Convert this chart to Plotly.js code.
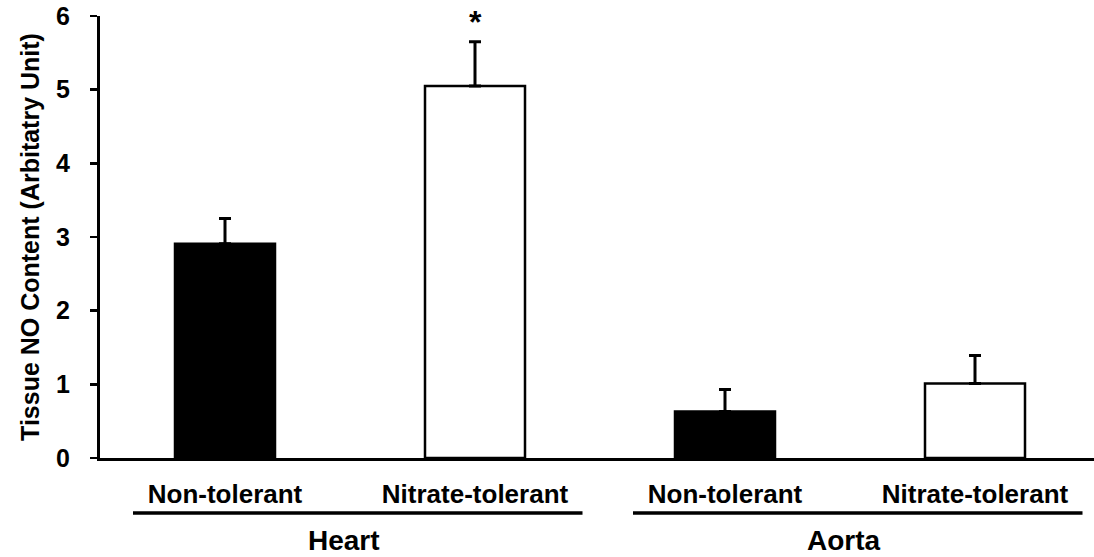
<!DOCTYPE html>
<html>
<head>
<meta charset="utf-8">
<script src="https://cdn.plot.ly/plotly-3.0.1.min.js"></script>
<style>html,body{margin:0;padding:0;background:#fff;}#chart{width:1094px;height:557px;}</style>
</head>
<body>
<div id="chart"></div>
<script>
// Data
var groups = ["Heart", "Aorta"];
var conditions = ["Non-tolerant", "Nitrate-tolerant"];
var categories = ["Heart|Non-tolerant", "Heart|Nitrate-tolerant", "Aorta|Non-tolerant", "Aorta|Nitrate-tolerant"];
var tickLabels = ["Non-tolerant", "Nitrate-tolerant", "Non-tolerant", "Nitrate-tolerant"];
var values = [2.91, 5.05, 0.63, 1.01];
var errors = [0.34, 0.60, 0.30, 0.38];
var significant = [false, true, false, false];
var yTicks = [0, 1, 2, 3, 4, 5, 6];

var FONT = "Liberation Sans, Arial, sans-serif";

var fills = categories.map(function (c, i) { return i % 2 === 0 ? "#000000" : "#ffffff"; });

var trace = {
  type: "bar",
  x: categories,
  y: values,
  width: 0.4,
  marker: { color: fills, line: { color: "#000000", width: 2.5 } },
  error_y: {
    type: "data",
    array: errors,
    symmetric: false,
    arrayminus: errors.map(function () { return 0; }),
    color: "#000000",
    thickness: 3,
    width: 6
  },
  hoverinfo: "none"
};

var annotations = [];
categories.forEach(function (c, i) {
  if (significant[i]) {
    annotations.push({
      x: c, y: values[i] + errors[i], xref: "x", yref: "y",
      text: "<b>*</b>", showarrow: false, yanchor: "bottom", yshift: 0,
      font: { family: FONT, size: 32, color: "#000" }
    });
  }
});

var shapes = [];
groups.forEach(function (g, gi) {
  var first = gi * conditions.length;
  var last = first + conditions.length - 1;
  shapes.push({
    type: "line", xref: "x", yref: "paper",
    x0: first - 0.368, x1: last + 0.43, y0: -0.1244, y1: -0.1244,
    line: { color: "#000", width: 3.5 }
  });
  annotations.push({
    x: (first + last) / 2, xref: "x", y: -0.2235, yref: "paper",
    xshift: -6, text: "<b>" + g + "</b>", showarrow: false,
    yanchor: "bottom", xanchor: "center", borderpad: 0,
    font: { family: FONT, size: 28, color: "#000" }
  });
});

var layout = {
  width: 1094, height: 557,
  margin: { l: 100, r: 0, t: 16, b: 99 },
  paper_bgcolor: "#fff", plot_bgcolor: "#fff",
  showlegend: false,
  xaxis: {
    type: "category",
    range: [-0.5, -0.5 + 994 / 250],
    tickvals: categories, ticktext: tickLabels,
    ticks: "", showgrid: false, zeroline: false,
    showline: true, linecolor: "#000", linewidth: 2.5,
    ticklabelstandoff: 11,
    tickfont: { family: FONT, size: 26, color: "#000", weight: "bold" }
  },
  yaxis: {
    range: [0, 6], tickvals: yTicks, ticktext: yTicks.map(String),
    ticks: "outside", ticklen: 7, tickwidth: 2.5, tickcolor: "#000",
    showgrid: false, zeroline: false,
    showline: true, linecolor: "#000", linewidth: 3,
    ticklabelstandoff: 15,
    tickfont: { family: FONT, size: 25, color: "#000", weight: "bold" },
    title: { text: "<b>Tissue NO Content (Arbitatry Unit)</b>", standoff: 10,
             font: { family: FONT, size: 25, color: "#000" } }
  },
  shapes: shapes,
  annotations: annotations
};

Plotly.newPlot("chart", [trace], layout, { displayModeBar: false, staticPlot: true });
</script>
</body>
</html>
